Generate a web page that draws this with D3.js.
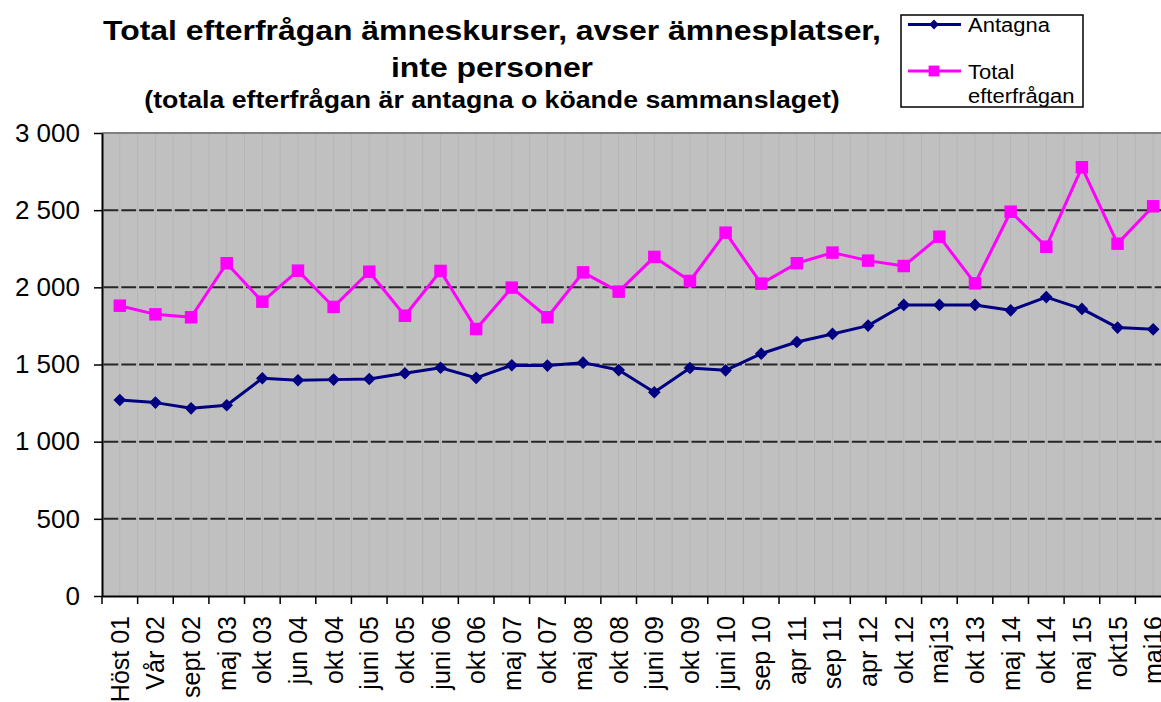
<!DOCTYPE html>
<html>
<head>
<meta charset="utf-8">
<script src="https://cdn.jsdelivr.net/npm/d3@7"></script>
<style>
    html, body { margin: 0; padding: 0; background: #ffffff; overflow: hidden; }
    svg { display: block; font-family: "Liberation Sans", Arial, sans-serif; }
</style>
</head>
<body>
<svg id="chart" width="1161" height="702"></svg>
<script>
const periods = [
    "Höst 01", "Vår 02", "sept 02", "maj 03", "okt 03", "jun 04", "okt 04", "juni 05",
    "okt 05", "juni 06", "okt 06", "maj 07", "okt 07", "maj 08", "okt 08", "juni 09",
    "okt 09", "juni 10", "sep 10", "apr 11", "sep 11", "apr 12", "okt 12", "maj13",
    "okt 13", "maj 14", "okt 14", "maj 15", "okt15", "maj16"
];

const antagna = [
    1270, 1253, 1216, 1236, 1411, 1398, 1402, 1406, 1443, 1479,
    1413, 1495, 1493, 1512, 1464, 1320, 1477, 1462, 1570, 1646,
    1698, 1752, 1886, 1886, 1886, 1851, 1937, 1860, 1739, 1728
];

const totalDemand = [
    1881, 1825, 1806, 2156, 1907, 2108, 1873, 2101, 1816, 2106,
    1730, 1998, 1806, 2097, 1972, 2197, 2041, 2354, 2024, 2156,
    2225, 2173, 2138, 2328, 2026, 2490, 2263, 2778, 2283, 2525
];

const yTicks = [0, 500, 1000, 1500, 2000, 2500, 3000];

const titleLines = [
    "Total efterfrågan ämneskurser, avser ämnesplatser,",
    "inte personer"
];
const subTitle = "(totala efterfrågan är antagna o köande sammanslaget)";

const seriesList = [
    { name: "Antagna", values: antagna, color: "#000080", shape: "diamond" },
    { name: "Total efterfrågan", values: totalDemand, color: "#ff00ff", shape: "square" }
];

const plot = { left: 102, right: 1171, top: 133, bottom: 596 };

const svg = d3.select("#chart");

const x = d3.scaleBand()
    .domain(periods)
    .range([plot.left, plot.right])
    .padding(0);

const y = d3.scaleLinear()
    .domain([0, 3000])
    .range([plot.bottom, plot.top]);

const half = x.bandwidth() / 2;
const fmt = d3.formatLocale({ thousands: " ", grouping: [3], decimal: ",", currency: ["", " kr"] }).format(",d");

// stretch horizontal text a little, the source picture is wider than Arial
function stretch(sel, factor) {
    sel.each(function () {
        const w = this.getComputedTextLength();
        d3.select(this)
            .attr("textLength", w * factor)
            .attr("lengthAdjust", "spacingAndGlyphs");
    });
}

// plot background
svg.append("rect")
    .attr("x", plot.left)
    .attr("y", plot.top)
    .attr("width", plot.right - plot.left)
    .attr("height", plot.bottom - plot.top)
    .attr("fill", "#c0c0c0");

// faint vertical lines at every half category
const halfSteps = d3.range(1, periods.length * 2);
svg.append("g")
    .selectAll("line")
    .data(halfSteps)
    .join("line")
    .attr("x1", d => plot.left + d * half)
    .attr("x2", d => plot.left + d * half)
    .attr("y1", plot.top)
    .attr("y2", plot.bottom)
    .attr("stroke", "#b5b5b5")
    .attr("stroke-width", 1);

// dashed horizontal gridlines
svg.append("g")
    .selectAll("line")
    .data(yTicks.filter(v => v > 0 && v < 3000))
    .join("line")
    .attr("x1", plot.left)
    .attr("x2", plot.right)
    .attr("y1", d => y(d))
    .attr("y2", d => y(d))
    .attr("stroke", "#262626")
    .attr("stroke-width", 2)
    .attr("stroke-dasharray", `${half - 3} 3`)
    .attr("stroke-dashoffset", half - 1.5);

// top border of plot area
svg.append("line")
    .attr("x1", plot.left)
    .attr("x2", plot.right)
    .attr("y1", y(3000))
    .attr("y2", y(3000))
    .attr("stroke", "#808080")
    .attr("stroke-width", 2);

// y axis
const yAxis = svg.append("g")
    .attr("transform", `translate(${plot.left},0)`)
    .call(d3.axisLeft(y).tickValues(yTicks).tickFormat(fmt).tickSize(8).tickPadding(14).tickSizeOuter(0));

yAxis.select(".domain").attr("stroke", "#000").attr("stroke-width", 2);
yAxis.selectAll(".tick line").attr("stroke", "#000").attr("stroke-width", 1.5);
yAxis.selectAll("text")
    .attr("font-size", 26)
    .attr("font-family", "Liberation Sans, Arial, sans-serif")
    .attr("fill", "#000");

// x axis: labels at category centres, ticks at category edges
const xAxis = svg.append("g")
    .attr("transform", `translate(0,${plot.bottom})`)
    .call(d3.axisBottom(x).tickSize(0).tickSizeOuter(0));

xAxis.select(".domain").attr("stroke", "#000").attr("stroke-width", 2);
xAxis.selectAll("text")
    .attr("font-size", 25)
    .attr("font-family", "Liberation Sans, Arial, sans-serif")
    .attr("fill", "#000")
    .attr("text-anchor", "end")
    .attr("transform", "rotate(-90)")
    .attr("x", -20)
    .attr("y", 0)
    .attr("dy", "0.36em");

xAxis.append("g")
    .selectAll("line")
    .data(d3.range(0, periods.length + 1))
    .join("line")
    .attr("x1", i => plot.left + i * x.bandwidth())
    .attr("x2", i => plot.left + i * x.bandwidth())
    .attr("y1", 0)
    .attr("y2", 8)
    .attr("stroke", "#000")
    .attr("stroke-width", 1.5);

// series
const line = d3.line()
    .x((d, i) => x(periods[i]) + half)
    .y(d => y(d));

function markerPath(shape, scale = 1) {
    if (shape === "diamond") {
        return d3.symbol(d3.symbolSquare, 80 * scale)();
    }
    return d3.symbol(d3.symbolSquare, 156 * scale)();
}

for (const s of seriesList) {
    const g = svg.append("g");

    g.append("path")
        .datum(s.values)
        .attr("fill", "none")
        .attr("stroke", s.color)
        .attr("stroke-width", 3)
        .attr("stroke-linejoin", "round")
        .attr("d", line);

    g.selectAll(".mark")
        .data(s.values)
        .join("path")
        .attr("class", "mark")
        .attr("d", markerPath(s.shape))
        .attr("fill", s.color)
        .attr("transform", (d, i) => {
            const rot = s.shape === "diamond" ? " rotate(45)" : "";
            return `translate(${x(periods[i]) + half},${y(d)})${rot}`;
        });
}

// titles
const titleX = 492;
svg.append("text")
    .attr("x", titleX)
    .attr("y", 40)
    .attr("text-anchor", "middle")
    .attr("font-weight", "bold")
    .attr("font-size", 27.5)
    .text(titleLines[0])
    .call(stretch, 1.16);

svg.append("text")
    .attr("x", titleX)
    .attr("y", 77)
    .attr("text-anchor", "middle")
    .attr("font-weight", "bold")
    .attr("font-size", 27.5)
    .text(titleLines[1])
    .call(stretch, 1.16);

svg.append("text")
    .attr("x", titleX)
    .attr("y", 108)
    .attr("text-anchor", "middle")
    .attr("font-weight", "bold")
    .attr("font-size", 23)
    .text(subTitle)
    .call(stretch, 1.16);

// legend
const legend = svg.append("g").attr("transform", "translate(901,15)");

legend.append("rect")
    .attr("width", 182)
    .attr("height", 92)
    .attr("fill", "#ffffff")
    .attr("stroke", "#000")
    .attr("stroke-width", 1.5);

const legendRows = [
    { series: seriesList[0], lineY: 9.5, text: ["Antagna"], textY: 16.5 },
    { series: seriesList[1], lineY: 56, text: ["Total", "efterfrågan"], textY: 63.5 }
];

for (const row of legendRows) {
    legend.append("line")
        .attr("x1", 7)
        .attr("x2", 60)
        .attr("y1", row.lineY)
        .attr("y2", row.lineY)
        .attr("stroke", row.series.color)
        .attr("stroke-width", 3);

    legend.append("path")
        .attr("d", markerPath(row.series.shape, row.series.shape === "diamond" ? 0.6 : 0.75))
        .attr("fill", row.series.color)
        .attr("transform", `translate(33,${row.lineY})${row.series.shape === "diamond" ? " rotate(45)" : ""}`);

    row.text.forEach((t, k) => {
        legend.append("text")
            .attr("x", 67)
            .attr("y", row.textY + k * 24.5)
            .attr("font-size", 20)
            .attr("fill", "#000")
            .text(t)
            .call(stretch, 1.1);
    });
}
</script>
</body>
</html>
